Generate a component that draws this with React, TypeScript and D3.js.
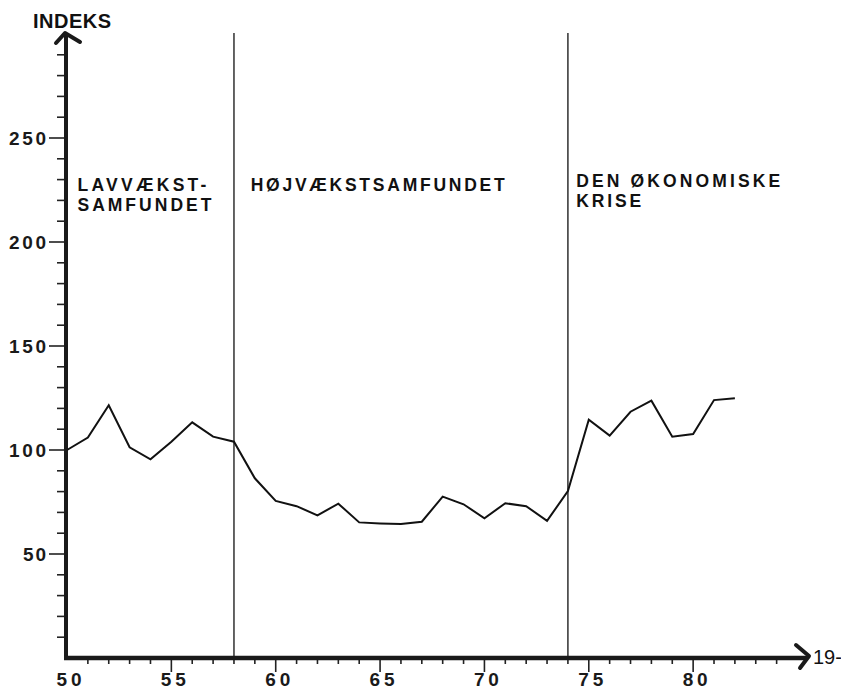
import React from "react";
import * as d3 from "d3";

const years = d3.range(50, 83);
const values = [100, 106, 121.5, 101.3, 95.5, 104, 113.3, 106.4, 104, 86.4, 75.5, 73, 68.6, 74.2, 65.2, 64.7, 64.4, 65.5, 77.6, 73.9, 67.2, 74.4, 73, 65.9, 80.3, 114.6, 106.9, 118.4, 123.7, 106.4, 107.7, 124, 124.9];
const dividers = [58, 74];
const yMajor = [50, 100, 150, 200, 250];
const yMinor = d3.range(10, 300, 10);
const xMajor = [50, 55, 60, 65, 70, 75, 80];
const xMinor = d3.range(51, 85, 1);
const periods = [
  { lines: ["LAVVÆKST-", "SAMFUNDET"], year: 50.5, widths: [129, 134] },
  { lines: ["HØJVÆKSTSAMFUNDET"], year: 58.8, widths: [254] },
  { lines: ["DEN ØKONOMISKE", "KRISE"], year: 74.4, widths: [204, 65] },
];

export default function App() {
  const x = d3.scaleLinear().domain([50, 85]).range([67, 797.5]);
  const y = d3.scaleLinear().domain([0, 300]).range([658, 34]);
  const line = d3.line<number>().x((_, i) => x(years[i])).y((d) => y(d));
  const font = "'Liberation Sans', Arial, Helvetica, sans-serif";
  const x0 = x(50);
  const y0 = y(0);
  return (
    <svg width={841} height={690} style={{ position: "absolute", left: 0, top: 0, background: "#fff" }} fontFamily={font}>
      <rect width={841} height={690} fill="#fff" />
      {dividers.map((d) => (
        <line key={d} x1={x(d)} x2={x(d)} y1={33} y2={y0} stroke="#222" strokeWidth={1.4} />
      ))}
      {yMinor.map((v) => (
        <line key={"ym" + v} x1={yMajor.includes(v) ? 49 : 57} x2={x0} y1={y(v)} y2={y(v)} stroke="#222" strokeWidth={1.6} />
      ))}
      {yMajor.map((v) => (
        <text key={"yl" + v} x={46} y={y(v) + 7} textAnchor="end" fontSize={19} fontWeight="bold" fill="#1a1a1a" textLength={v < 100 ? 23 : 37} lengthAdjust="spacing">
          {v}
        </text>
      ))}
      {xMinor.map((v) => (
        <line key={"xm" + v} x1={x(v)} x2={x(v)} y1={y0} y2={xMajor.includes(v) ? 672 : 664} stroke="#222" strokeWidth={1.6} />
      ))}
      {xMajor.map((v) => (
        <text key={"xl" + v} x={x(v) + 2} y={686} textAnchor="middle" fontSize={19} fontWeight="bold" fill="#1a1a1a" textLength={25} lengthAdjust="spacing">
          {v}
        </text>
      ))}
      <line x1={x0 - 1} x2={x0 - 1} y1={y0 + 2} y2={34} stroke="#1a1a1a" strokeWidth={4} />
      <path d={`M${x0 - 11},${43} L${x0 - 2},${33} L${x0 + 13},${42}`} fill="none" stroke="#1a1a1a" strokeWidth={4} strokeLinecap="round" strokeLinejoin="round" />
      <line x1={x0 - 3} x2={808} y1={y0} y2={y0} stroke="#1a1a1a" strokeWidth={4.5} />
      <path d={`M${796},${645} L${809},${656} L${800},${668}`} fill="none" stroke="#1a1a1a" strokeWidth={4} strokeLinecap="round" strokeLinejoin="round" />
      <text x={813} y={664} fontSize={20} fill="#111">19-</text>
      <text x={33} y={28} fontSize={20} fontWeight="bold" fill="#111" textLength={78} lengthAdjust="spacing">INDEKS</text>
      <path d={line(values) || ""} fill="none" stroke="#111" strokeWidth={2} strokeLinejoin="miter" />
      {periods.map((p, i) => (
        <text key={i} fontSize={17.5} fontWeight="bold" fill="#111">
          {p.lines.map((t, j) => (
            <tspan key={j} x={x(p.year)} y={(i === 2 ? 187 : 190.5) + j * 20} textLength={p.widths[j]} lengthAdjust="spacing">
              {t}
            </tspan>
          ))}
        </text>
      ))}
    </svg>
  );
}
